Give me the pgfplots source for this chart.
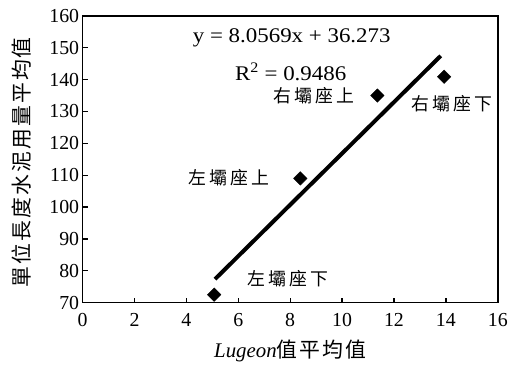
\documentclass[border=0pt]{standalone}
\usepackage{pgfplots}
\pgfplotsset{compat=1.18}
\usepackage{fontspec}
\setmainfont{Liberation Serif}
\newfontfamily\eqfont{Liberation Serif}[FakeStretch=1.1]
\newfontfamily\cjk[LetterSpace=18]{Noto Sans CJK TC}
\newfontfamily\cjkaxis[LetterSpace=10]{Noto Sans CJK TC}

\begin{document}
\begin{tikzpicture}
\begin{axis}[
  scale only axis, width=417bp, height=288bp,
  xmin=0, xmax=16, ymin=70, ymax=160,
  xtick={0,2,...,16}, ytick={70,80,...,160},
  tick pos=left, tick align=inside,
  major tick length=5bp,
  axis line style={line width=1.6bp},
  every tick/.style={black, line width=1.3bp},
  ticklabel style={font=\fontsize{20}{20}\selectfont},
  xticklabel style={yshift=-7bp},
  /pgf/number format/assume math mode=true,
  xlabel={\fontsize{21}{21}\selectfont\textit{Lugeon}{\cjkaxis 值平均值}},
  ylabel={\cjkaxis\fontsize{21}{21}\selectfont 單位長度水泥用量平均值},
  xlabel style={at={(axis description cs:0.5,-0.170)}, anchor=center},
  ylabel style={at={(axis description cs:-0.146,0.49)}, anchor=center},
  clip=false,
]
% linear trendline
\addplot[black, line width=4bp, line cap=butt] coordinates {(5.1,77.363) (13.8,147.458)};
% averages per abutment location
\addplot[only marks, mark=square*, mark size=4.8bp, mark options={rotate=45, fill=black, draw=black}]
  coordinates {(5.07,72.5) (8.39,109.0) (11.36,135.0) (13.93,140.9)};

\node[font=\eqfont\fontsize{21}{21}\selectfont] at (axis cs:8.06,153.1) {y = 8.0569x + 36.273};
\node[font=\eqfont\fontsize{21}{21}\selectfont] at (axis cs:8.02,142.5) {R\textsuperscript{2} = 0.9486};

\node[font=\cjk\fontsize{18}{18}\selectfont] at (axis cs:8.90,135.0) {右壩座上};
\node[font=\cjk\fontsize{18}{18}\selectfont] at (axis cs:14.24,132.5) {右壩座下};
\node[font=\cjk\fontsize{18}{18}\selectfont] at (axis cs:5.64,109.1) {左壩座上};
\node[font=\cjk\fontsize{18}{18}\selectfont] at (axis cs:7.90,77.5) {左壩座下};
\end{axis}
\path ([xshift=-83bp,yshift=-62bp]current axis.south west) rectangle ([xshift=11bp,yshift=16bp]current axis.north east);
\end{tikzpicture}
\end{document}
